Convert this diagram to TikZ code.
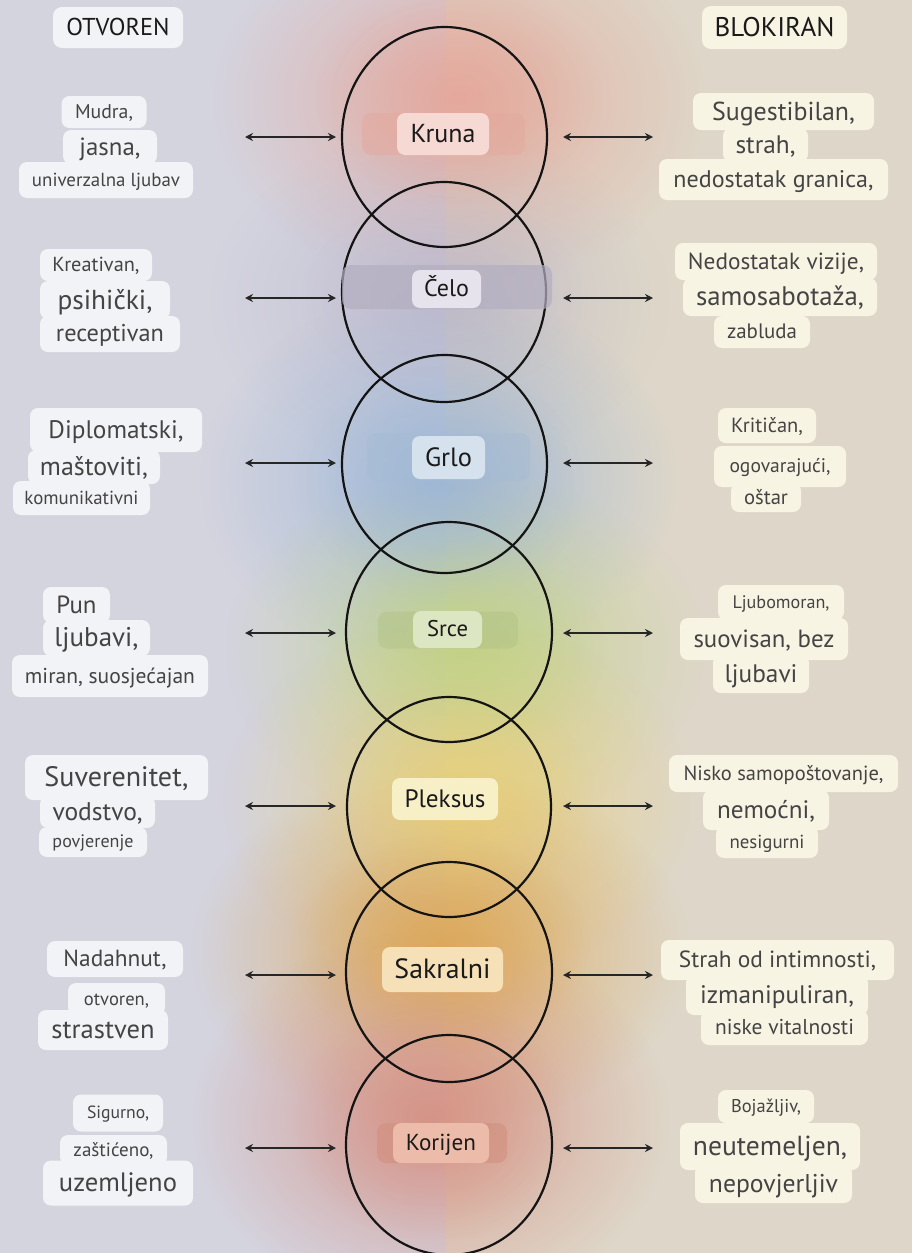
\documentclass[tikz,border=0pt]{standalone}
\usepackage{fontspec}
\setmainfont{PT Sans}
\usepackage{graphicx}
\usetikzlibrary{arrows.meta,fadings,shapes.geometric}

\definecolor{bgL}{HTML}{D4D4DF}
\definecolor{bgR}{HTML}{DED7C9}
\definecolor{boxL}{HTML}{F2F3F6}
\definecolor{boxR}{HTML}{F8F4E4}
\definecolor{txt}{HTML}{444444}
\definecolor{lab}{HTML}{1A1A1A}
\definecolor{gK}{HTML}{E5A598}
\definecolor{gC}{HTML}{B7B2C8}
\definecolor{gG}{HTML}{9AB5D6}
\definecolor{gS}{HTML}{BFD283}
\definecolor{gP}{HTML}{E8CF76}
\definecolor{gSa}{HTML}{DDA758}
\definecolor{gKo}{HTML}{D68E80}
\definecolor{xK}{HTML}{F5D9D2}
\definecolor{xC}{HTML}{E6E3EC}
\definecolor{xG}{HTML}{D5E2EE}
\definecolor{xS}{HTML}{DCE6C2}
\definecolor{xP}{HTML}{F7F0C6}
\definecolor{xSa}{HTML}{F6E0B8}
\definecolor{xKo}{HTML}{EDBBA9}
\definecolor{nK}{HTML}{E3A99E}
\definecolor{nC}{HTML}{B3AEC0}
\definecolor{nG}{HTML}{A5BBD3}
\definecolor{nS}{HTML}{B2C388}
\definecolor{nSa}{HTML}{E2B373}
\definecolor{nKo}{HTML}{D0907E}

\tikzfading[name=glowfade, inner color=transparent!0, outer color=transparent!100]

\newcommand\tagline[8]{%
  \node[#1, minimum width=#5pt, minimum height=#6pt] (#2) at (#3,#4)
    {\resizebox{#7pt}{!}{\vphantom{Ájg}#8}};}
\newcommand\glow[6]{% color, x, y, rx, ry, opacity
  \fill[#1, path fading=glowfade, fill opacity=#6] (#2,#3) ellipse (#4pt and #5pt);}

\begin{document}
\begin{tikzpicture}[x=1pt,y=-1pt,
  tagL/.style={fill=boxL, rounded corners=8pt, inner sep=0pt, text=txt},
  tagR/.style={fill=boxR, rounded corners=8pt, inner sep=0pt, text=txt},
  head/.style={inner sep=0pt, rounded corners=9pt, text=lab},
  chlab/.style={inner sep=0pt, rounded corners=8pt, text=lab},
  band/.style={inner sep=0pt, rounded corners=9pt},
  chakra/.style={ellipse, draw=black!92, line width=2.2pt, inner sep=0pt},
  conn/.style={{Stealth[length=8pt,width=8pt]}-{Stealth[length=8pt,width=8pt]}, line width=2.8pt, draw=black!85}]

\useasboundingbox (0,0) rectangle (912,1253);
% background
\fill[bgL] (0,0) rectangle (446,1253);
\fill[bgR] (446,0) rectangle (912,1253);

% glows: wide layer
\glow{gK}{460}{100}{250}{190}{.8}
\glow{gC}{440}{300}{230}{170}{.6}
\glow{gG}{440}{480}{240}{190}{.8}
\glow{gS}{465}{650}{240}{180}{.8}
\glow{gP}{460}{800}{240}{180}{.8}
\glow{gSa}{440}{950}{250}{180}{.85}
\glow{gKo}{430}{1120}{240}{190}{.8}
% glows: core layer
\glow{gK}{455}{95}{140}{110}{.6}
\glow{gC}{445}{295}{140}{100}{.4}
\glow{gG}{445}{485}{140}{120}{.6}
\glow{gS}{465}{650}{140}{110}{.6}
\glow{gP}{455}{795}{140}{110}{.6}
\glow{gSa}{440}{945}{150}{110}{.7}
\glow{gKo}{430}{1120}{140}{120}{.55}

% circles
\node[chakra, minimum width=205pt, minimum height=220pt] (c1) at (444.5,137) {};
\node[chakra, minimum width=204pt, minimum height=220pt] (c2) at (444,292) {};
\node[chakra, minimum width=205pt, minimum height=218pt] (c3) at (444.5,464) {};
\node[chakra, minimum width=206pt, minimum height=220pt] (c4) at (449,632) {};
\node[chakra, minimum width=204pt, minimum height=220pt] (c5) at (449,807) {};
\node[chakra, minimum width=206pt, minimum height=220pt] (c6) at (449,972) {};
\node[chakra, minimum width=206pt, minimum height=220pt] (c7) at (449,1145) {};

% label bands
\node[band, fill=nK, fill opacity=.5, minimum width=163pt, minimum height=42pt] (n1) at (443.5,134) {};
\node[band, fill=nC, fill opacity=.7, minimum width=210pt, minimum height=44pt] (n2) at (447,287) {};
\node[band, fill=nG, fill opacity=.45, minimum width=163pt, minimum height=48pt] (n3) at (448.5,457) {};
\node[band, fill=nS, fill opacity=.5, minimum width=140pt, minimum height=37pt] (n4) at (448,630) {};
\node[band, fill=nSa, fill opacity=.3, minimum width=140pt, minimum height=45pt] (n6) at (442,970) {};
\node[band, fill=nKo, fill opacity=.6, minimum width=130pt, minimum height=40pt] (n7) at (442,1143) {};

% chakra labels
\tagline{chlab, fill=xK}{k1}{443}{134}{92}{42}{65}{Kruna}
\tagline{chlab, fill=xC}{k2}{446.5}{289}{69}{38}{45}{Čelo}
\tagline{chlab, fill=xG}{k3}{448.5}{457.5}{73}{43}{47}{Grlo}
\tagline{chlab, fill=xS}{k4}{447.5}{629.5}{69}{37}{41}{Srce}
\tagline{chlab, fill=xP}{k5}{445}{799}{106}{42}{81}{Pleksus}
\tagline{chlab, fill=xSa}{k6}{442.5}{969.5}{121}{45}{96}{Sakralni}
\tagline{chlab, fill=xKo}{k7}{441}{1143}{96}{40}{70}{Korijen}

% headers
\tagline{head, fill=boxL}{hL}{118}{27.5}{130}{41}{103}{OTVOREN}
\tagline{head, fill=boxR}{hR}{774.5}{27.5}{145}{43}{120}{BLOKIRAN}

% left column (otvoren)
\tagline{tagL}{o1a}{104}{112}{85}{32}{58}{Mudra,}
\tagline{tagL}{o1b}{110}{147}{94}{34}{61}{jasna,}
\tagline{tagL}{o1c}{106}{180}{174}{36}{148}{univerzalna ljubav}

\tagline{tagL}{o2a}{96}{265}{112}{32}{87}{Kreativan,}
\tagline{tagL}{o2b}{105}{300}{130}{38}{95}{psihički,}
\tagline{tagL}{o2c}{110}{334}{140}{36}{108}{receptivan}

\tagline{tagL}{o3a}{116}{430}{172}{44}{135}{Diplomatski,}
\tagline{tagL}{o3b}{94}{467}{132}{34}{108}{maštoviti,}
\tagline{tagL}{o3c}{81.5}{498}{137}{34}{114}{komunikativni}

\tagline{tagL}{o4a}{76.5}{605}{67}{36}{40}{Pun}
\tagline{tagL}{o4b}{96.5}{638}{107}{36}{84}{ljubavi,}
\tagline{tagL}{o4c}{110}{676}{196}{42}{170}{miran, suosjećajan}

\tagline{tagL}{o5a}{116.5}{777.5}{183}{45}{144}{Suverenitet,}
\tagline{tagL}{o5b}{97.5}{812}{115}{32}{90}{vodstvo,}
\tagline{tagL}{o5c}{93}{842}{108}{30}{81}{povjerenje}

\tagline{tagL}{o6a}{115}{959}{136}{36}{103}{Nadahnut,}
\tagline{tagL}{o6b}{116.5}{999}{97}{32}{65}{otvoren,}
\tagline{tagL}{o6c}{103}{1030}{130}{40}{103}{strastven}

\tagline{tagL}{o7a}{118}{1113}{90}{37}{62}{Sigurno,}
\tagline{tagL}{o7b}{113.5}{1150}{107}{30}{80}{zaštićeno,}
\tagline{tagL}{o7c}{118}{1183}{150}{45}{118}{uzemljeno}

% right column (blokiran)
\tagline{tagR}{b1a}{783.5}{111.5}{181}{37}{143}{Sugestibilan,}
\tagline{tagR}{b1b}{765.5}{145}{85}{34}{60}{strah,}
\tagline{tagR}{b1c}{773.5}{179.5}{229}{41}{200}{nedostatak granica,}

\tagline{tagR}{b2a}{776}{261.5}{202}{37}{176}{Nedostatak vizije,}
\tagline{tagR}{b2b}{780}{297}{194}{38}{168}{samosabotaža,}
\tagline{tagR}{b2c}{762}{332}{96}{32}{70}{zabluda}

\tagline{tagR}{b3a}{767}{425.5}{98}{35}{72}{Kritičan,}
\tagline{tagR}{b3b}{780}{466.5}{132}{41}{101}{ogovarajući,}
\tagline{tagR}{b3c}{766}{497.5}{70}{29}{44}{oštar}

\tagline{tagR}{b4a}{781}{602.5}{126}{35}{97}{Ljubomoran,}
\tagline{tagR}{b4b}{764}{639}{168}{42}{141}{suovisan, bez}
\tagline{tagR}{b4c}{761}{674}{96}{38}{73}{ljubavi}

\tagline{tagR}{b5a}{783.5}{773.5}{229}{37}{200}{Nisko samopoštovanje,}
\tagline{tagR}{b5b}{766}{810}{126}{40}{98}{nemoćni,}
\tagline{tagR}{b5c}{767}{842}{102}{32}{75}{nesigurni}

\tagline{tagR}{b6a}{777.5}{960}{233}{40}{197}{Strah od intimnosti,}
\tagline{tagR}{b6b}{777}{995}{182}{40}{154}{izmanipuliran,}
\tagline{tagR}{b6c}{784.5}{1027.5}{167}{35}{139}{niske vitalnosti}

\tagline{tagR}{b7a}{766}{1106.5}{96}{33}{70}{Bojažljiv,}
\tagline{tagR}{b7b}{770}{1146.5}{180}{47}{154}{neutemeljen,}
\tagline{tagR}{b7c}{773.5}{1184}{157}{38}{129}{nepovjerljiv}

% connector end points
\foreach \i/\y in {1/137, 2/298, 3/463, 4/633, 5/806, 6/975, 7/1148} {
  \coordinate (la\i) at (245,\y);
  \coordinate (lb\i) at (336,\y);
  \coordinate (ra\i) at (563,\y);
  \coordinate (rb\i) at (653,\y);
}
\foreach \i in {1,...,7} {
  \draw[conn] (la\i) -- (lb\i);
  \draw[conn] (ra\i) -- (rb\i);
}
\end{tikzpicture}
\end{document}
